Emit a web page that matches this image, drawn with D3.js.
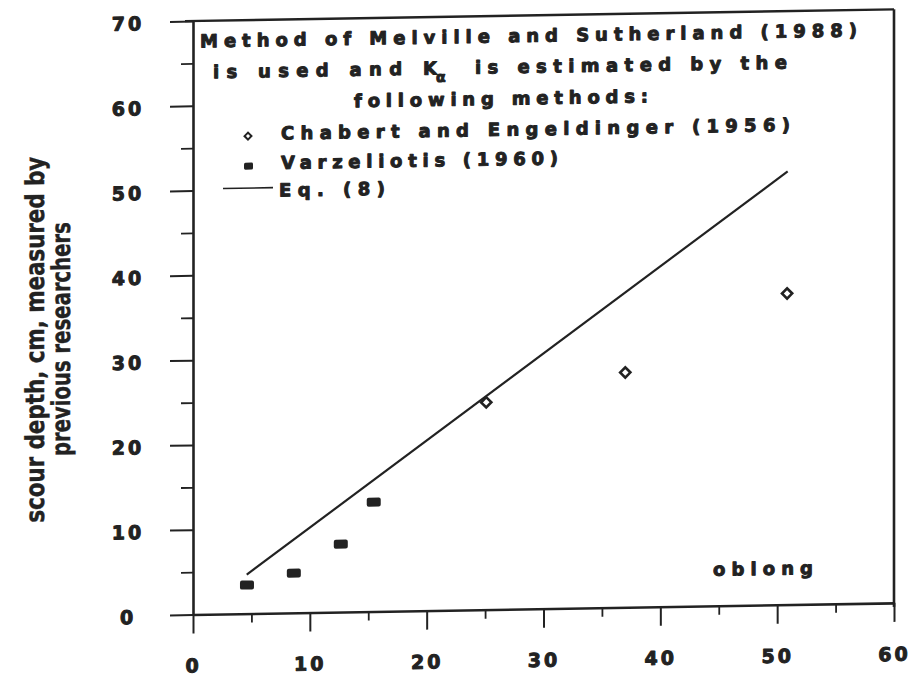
<!DOCTYPE html>
<html>
<head>
<meta charset="utf-8">
<script src="https://cdn.jsdelivr.net/npm/d3@7"></script>
<style>
  html, body { margin: 0; padding: 0; background: #fff; }
  svg { display: block; }
</style>
</head>
<body>
<svg id="chart" width="913" height="677"></svg>
<script>
// ---------------- data ----------------
const xTicks = [0, 10, 20, 30, 40, 50, 60];
const xMinorTicks = [5, 15, 25, 35, 45, 55];
const yTicks = [0, 10, 20, 30, 40, 50, 60, 70];
const yMinorTicks = [5, 15, 25, 35, 45, 55, 65];

// Chabert and Engeldinger (1956) - open diamonds
const chabertX = [25.1, 37.0, 50.85];
const chabertY = [24.45, 27.7, 36.7];

// Varzeliotis (1960) - filled squares
const varzeliotisX = [4.62, 8.63, 12.65, 15.47];
const varzeliotisY = [3.37, 4.69, 8.01, 12.9];

// Eq. (8) line
const eqX = [4.6, 50.9];
const eqY = [4.6, 51.1];

const yLabelLines = ["scour depth, cm, measured by", "previous researchers"];
const legendTitle1 = "Method of Melville and Sutherland (1988)";
const legendTitle2a = "is used and K";
const legendTitle2sub = "α";
const legendTitle2b = "is estimated by the";
const legendTitle3 = "following methods:";
const seriesNames = ["Chabert and Engeldinger (1956)", "Varzeliotis (1960)", "Eq. (8)"];
const shapeNote = "oblong";

// ---------------- layout ----------------
const ink = "#222";
const ox = 193, oy = 614.5;
const x = d3.scaleLinear().domain([0, 60]).range([ox, 894]);
const y = d3.scaleLinear().domain([0, 70]).range([oy, 21]);

const svg = d3.select("#chart");
svg.append("rect").attr("width", 913).attr("height", 677).attr("fill", "#fff");

// the scan is slightly skewed: horizontal lines rise to the right
const g = svg.append("g")
  .attr("transform", `translate(${ox},${oy}) skewY(-0.95) translate(${-ox},${-oy})`);

const numFont = "'DejaVu Sans', Verdana, sans-serif";

function heavy(sel, size, spacing) {
  sel.attr("fill", ink)
    .attr("stroke", ink).attr("stroke-width", 1.0).attr("stroke-linejoin", "round")
    .style("font-family", numFont).style("font-weight", "bold")
    .style("font-size", size + "px");
  if (spacing) sel.style("letter-spacing", spacing + "px");
  return sel;
}

// ---- Y axis ----
const yAxis = g.append("g")
  .attr("transform", `translate(${x(0)},0)`)
  .call(d3.axisLeft(y).tickValues(yTicks).tickSize(23).tickSizeOuter(0).tickFormat(d3.format("d")));
yAxis.select(".domain").attr("stroke", ink).attr("stroke-width", 2.6);
yAxis.selectAll(".tick line").attr("stroke", ink).attr("stroke-width", 2);
heavy(yAxis.selectAll(".tick text")
  .attr("x", -65).attr("dy", null).attr("y", 8)
  .attr("text-anchor", "middle"), 19, 3);

const yMinor = g.append("g")
  .attr("transform", `translate(${x(0)},0)`)
  .call(d3.axisLeft(y).tickValues(yMinorTicks).tickSize(12).tickFormat(""));
yMinor.select(".domain").remove();
yMinor.selectAll(".tick line").attr("stroke", ink).attr("stroke-width", 1.8);

// ---- X axis ----
const xAxis = g.append("g")
  .attr("transform", `translate(0,${y(0)})`)
  .call(d3.axisBottom(x).tickValues(xTicks).tickSize(19).tickSizeOuter(0).tickFormat(d3.format("d")));
xAxis.select(".domain").attr("stroke", ink).attr("stroke-width", 2.6);
xAxis.selectAll(".tick line").attr("stroke", ink).attr("stroke-width", 2);
heavy(xAxis.selectAll(".tick text")
  .attr("y", 58).attr("dy", null)
  .attr("text-anchor", "middle"), 19, 3);

const xMinor = g.append("g")
  .attr("transform", `translate(0,${y(0)})`)
  .call(d3.axisBottom(x).tickValues(xMinorTicks).tickSize(9).tickFormat(""));
xMinor.select(".domain").remove();
xMinor.selectAll(".tick line").attr("stroke", ink).attr("stroke-width", 1.8);

// ---- frame: top and right ----
g.append("line")
  .attr("x1", x(0) - 8).attr("x2", x(60))
  .attr("y1", y(70)).attr("y2", y(70))
  .attr("stroke", ink).attr("stroke-width", 2.4);
g.append("line")
  .attr("x1", x(60)).attr("x2", x(60))
  .attr("y1", y(70)).attr("y2", y(0) + 4)
  .attr("stroke", ink).attr("stroke-width", 2.6);

// ---- Y axis title ----
const yTitle = g.append("g").attr("transform", "translate(0,337) rotate(-90)");
const yLabelFont = "'Liberation Sans Narrow', 'DejaVu Sans Condensed', 'Arial Narrow', sans-serif";
yTitle.append("text")
  .attr("x", 0).attr("y", 44)
  .attr("text-anchor", "middle")
  .attr("textLength", 366).attr("lengthAdjust", "spacingAndGlyphs")
  .attr("fill", ink).attr("stroke", ink).attr("stroke-width", 0.4)
  .style("font-family", yLabelFont).style("font-size", "26px").style("font-weight", "bold")
  .text(yLabelLines[0]);
yTitle.append("text")
  .attr("x", 0).attr("y", 70)
  .attr("text-anchor", "middle")
  .attr("textLength", 234).attr("lengthAdjust", "spacingAndGlyphs")
  .attr("fill", ink).attr("stroke", ink).attr("stroke-width", 0.4)
  .style("font-family", yLabelFont).style("font-size", "26px").style("font-weight", "bold")
  .text(yLabelLines[1]);

// ---- Eq. (8) line ----
const eqPts = eqX.map((v, i) => [v, eqY[i]]);
g.append("path")
  .datum(eqPts)
  .attr("d", d3.line().x(d => x(d[0])).y(d => y(d[1])))
  .attr("fill", "none").attr("stroke", ink).attr("stroke-width", 2.2);

// ---- Varzeliotis squares ----
g.selectAll("rect.varz")
  .data(varzeliotisX.map((v, i) => [v, varzeliotisY[i]]))
  .join("rect").attr("class", "varz")
  .attr("x", d => x(d[0]) - 7).attr("y", d => y(d[1]) - 4.5)
  .attr("width", 14).attr("height", 9)
  .attr("rx", 2)
  .attr("fill", ink);

// ---- Chabert diamonds ----
const diamond = d3.symbol().type(d3.symbolSquare).size(52);
g.selectAll("path.chab")
  .data(chabertX.map((v, i) => [v, chabertY[i]]))
  .join("path").attr("class", "chab")
  .attr("d", diamond)
  .attr("transform", d => `translate(${x(d[0])},${y(d[1])}) rotate(45)`)
  .attr("fill", "#fff").attr("stroke", ink).attr("stroke-width", 2.6);

// ---- legend / annotation text ----
function legText(str, x0, yb, len, size) {
  const t = g.append("text")
    .attr("x", x0).attr("y", yb)
    .attr("textLength", len).attr("lengthAdjust", "spacing")
    .text(str);
  heavy(t, size || 18);
  return t;
}
legText(legendTitle1, 200, 47.5, 657);
legText(legendTitle2a, 213, 78.5, 224);
heavy(g.append("text")
  .attr("x", 436).attr("y", 86)
  .text(legendTitle2sub), 14);
legText(legendTitle2b, 475, 78.5, 312);
legText(legendTitle3, 354, 110, 294);

// legend markers
g.append("path")
  .attr("d", d3.symbol().type(d3.symbolSquare).size(24))
  .attr("transform", "translate(248,137) rotate(45)")
  .attr("fill", "#fff").attr("stroke", ink).attr("stroke-width", 2);
legText(seriesNames[0], 281, 141, 509);

g.append("rect")
  .attr("x", 244).attr("y", 163.5).attr("width", 9).attr("height", 7).attr("rx", 1.5)
  .attr("fill", ink);
legText(seriesNames[1], 281, 170.5, 277);

g.append("line")
  .attr("x1", 223).attr("x2", 273).attr("y1", 189).attr("y2", 189)
  .attr("stroke", ink).attr("stroke-width", 1.6);
legText(seriesNames[2], 279, 198, 106);

legText(shapeNote, 713, 584.5, 100);
</script>
</body>
</html>
